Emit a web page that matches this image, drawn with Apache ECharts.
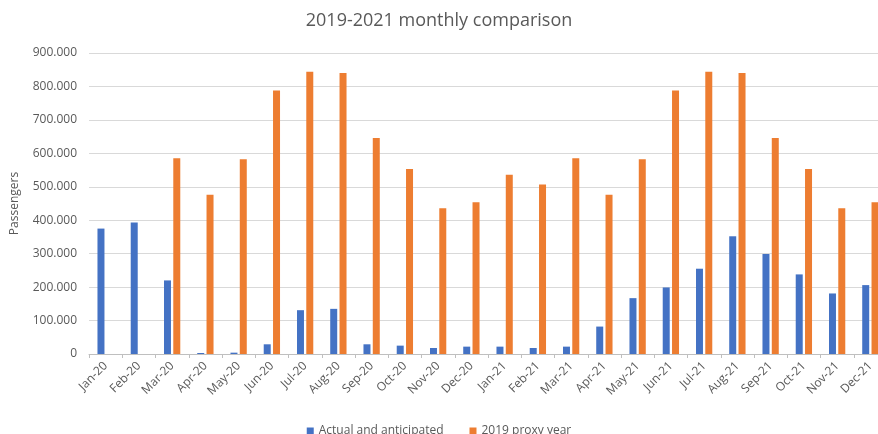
<html>
<head>
    <meta charset="utf-8">
    <title>ECharts</title>
    <script src="https://cdn.jsdelivr.net/npm/echarts@6/dist/echarts.min.js"></script>
</head>
<body style="margin:0">
    <div id="main" style="width: 878px;height:434px;"></div>
    <script type="text/javascript">
        var myChart = echarts.init(document.getElementById('main'));

        var months = ['Jan-20', 'Feb-20', 'Mar-20', 'Apr-20', 'May-20', 'Jun-20', 'Jul-20', 'Aug-20',
            'Sep-20', 'Oct-20', 'Nov-20', 'Dec-20', 'Jan-21', 'Feb-21', 'Mar-21', 'Apr-21', 'May-21',
            'Jun-21', 'Jul-21', 'Aug-21', 'Sep-21', 'Oct-21', 'Nov-21', 'Dec-21'];

        var actual = [375000, 393000, 220000, 3000, 4000, 29000, 131000, 135000,
            29000, 25000, 18000, 22000, 22000, 18000, 22000, 82000, 167000,
            199000, 255000, 352000, 299000, 238000, 181000, 206000];

        var proxy2019 = [null, null, 585000, 476000, 582000, 788000, 844000, 840000,
            646000, 553000, 436000, 454000, 536000, 507000, 585000, 476000, 582000,
            788000, 844000, 840000, 646000, 553000, 436000, 454000];

        var font = '"Open Sans", sans-serif';
        var grey = '#595959';

        option = {
            animation: false,
            textStyle: { fontFamily: font },
            title: {
                text: '2019-2021 monthly comparison',
                left: 'center',
                top: 7,
                textStyle: { fontFamily: font, fontSize: 18, fontWeight: 'normal', color: grey }
            },
            legend: {
                bottom: -8,
                left: 'center',
                itemWidth: 7,
                itemHeight: 7,
                itemGap: 26,
                icon: 'rect',
                textStyle: { fontFamily: font, fontSize: 12, color: grey },
                data: ['Actual and anticipated', '2019 proxy year']
            },
            // the plot runs a little past the right edge of the picture
            grid: { left: 89, width: 798, top: 53, bottom: 80, outerBoundsMode: 'none', containLabel: false },
            xAxis: {
                type: 'category',
                data: months,
                axisLine: { lineStyle: { color: '#bfbfbf' } },
                axisTick: { show: true, length: 4, lineStyle: { color: '#bfbfbf' } },
                axisLabel: { rotate: 45, fontSize: 12, color: grey, margin: 10, interval: 0 }
            },
            yAxis: {
                type: 'value',
                min: 0,
                max: 900000,
                interval: 100000,
                name: 'Passengers',
                nameLocation: 'middle',
                nameGap: 68,
                nameTextStyle: { fontFamily: font, fontSize: 12, color: grey },
                axisLabel: {
                    fontSize: 12,
                    color: grey,
                    margin: 12,
                    formatter: function (v) { return v === 0 ? '0' : (v / 1000) + '.000'; }
                },
                splitLine: { lineStyle: { color: '#d9d9d9' } }
            },
            series: [
                {
                    name: 'Actual and anticipated',
                    type: 'bar',
                    data: actual,
                    barWidth: 7,
                    barGap: '33%',
                    itemStyle: { color: '#4472C4' }
                },
                {
                    name: '2019 proxy year',
                    type: 'bar',
                    data: proxy2019,
                    barWidth: 7,
                    itemStyle: { color: '#ED7D31' }
                }
            ]
        };

        myChart.setOption(option);
    </script>
</body>
</html>
